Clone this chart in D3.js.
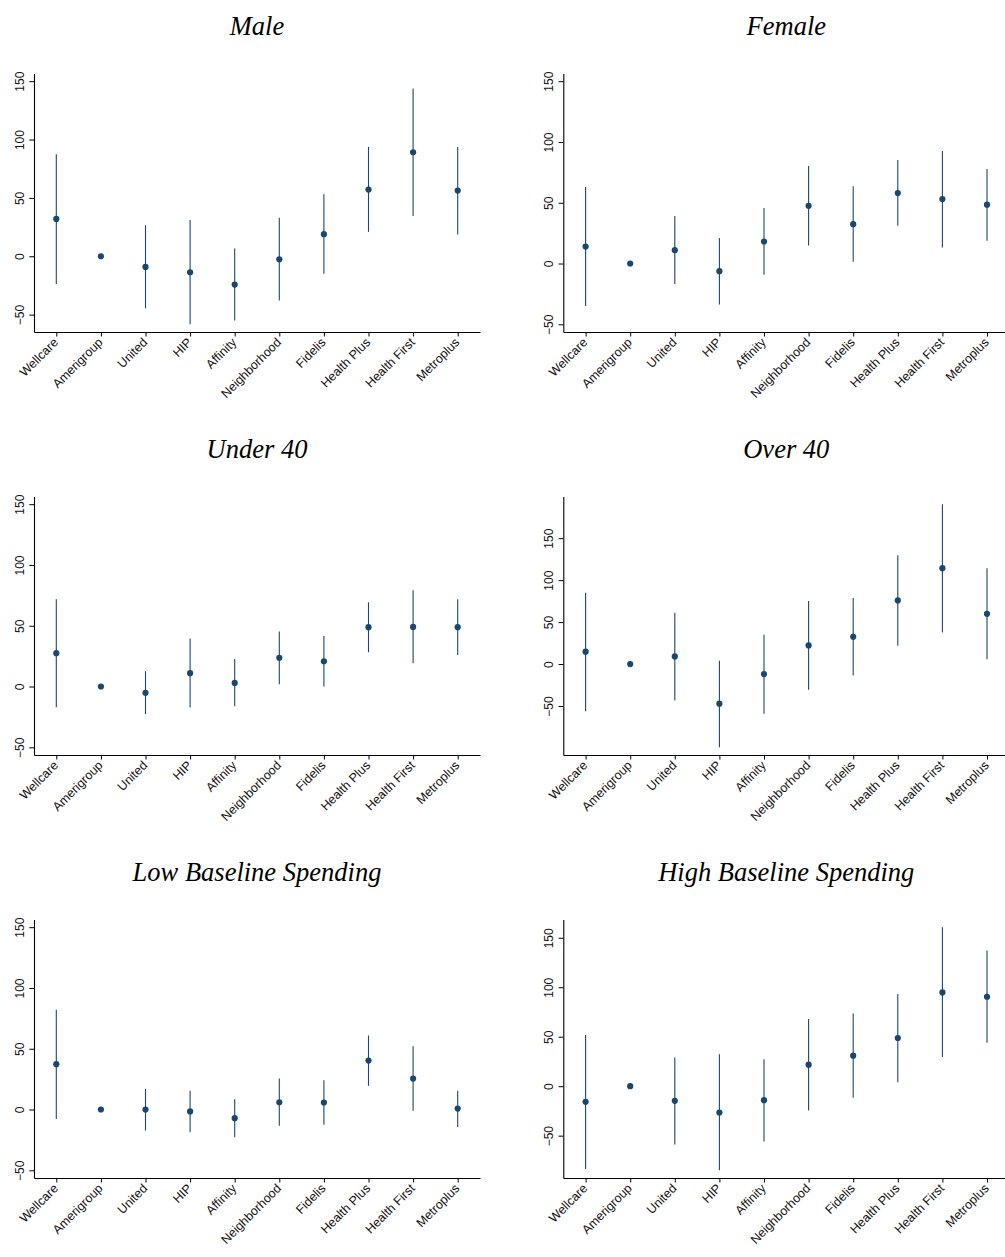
<!DOCTYPE html>
<html>
<head>
<meta charset="utf-8">
<script src="https://cdn.jsdelivr.net/npm/d3@7"></script>
<style>
  html, body { margin: 0; padding: 0; background: #fff; }
  svg { display: block; }
</style>
</head>
<body>
<script>
// ---- Data ----
const categories = ["Wellcare","Amerigroup","United","HIP","Affinity","Neighborhood","Fidelis","Health Plus","Health First","Metroplus"];
const yTicks = [-50, 0, 50, 100, 150];
const titles = ["Male", "Female", "Under 40", "Over 40", "Low Baseline Spending", "High Baseline Spending"];

const maleEst = [32.0, 0, -9.1, -13.7, -24.3, -2.6, 18.9, 57.1, 89.1, 56.3];
const maleLo  = [-23.7, 0, -44.6, -58.3, -55.1, -38.0, -14.9, 20.9, 34.6, 18.6];
const maleHi  = [87.4, 0, 26.6, 31.1, 6.6, 32.9, 53.1, 93.7, 143.7, 93.7];

const femaleEst = [14.0, 0, 11.0, -6.3, 18.1, 47.5, 32.4, 58.0, 53.0, 48.4];
const femaleLo  = [-34.9, 0, -16.8, -33.8, -9.3, 14.8, 1.4, 31.0, 13.2, 18.7];
const femaleHi  = [62.9, 0, 39.0, 20.9, 45.6, 80.2, 63.5, 85.2, 92.6, 77.7];

const under40Est = [27.4, 0, -5.2, 11.0, 3.0, 23.6, 20.8, 48.8, 49.0, 48.8];
const under40Lo  = [-17.0, 0, -22.7, -17.3, -16.2, 1.9, 0.0, 28.2, 19.2, 26.0];
const under40Hi  = [71.8, 0, 12.6, 39.5, 22.7, 45.2, 41.6, 69.3, 79.2, 71.8];

const over40Est = [14.7, 0, 9.1, -47.2, -11.9, 22.2, 32.5, 75.8, 114.3, 59.9];
const over40Lo  = [-56.3, 0, -43.3, -99.2, -59.1, -30.6, -13.5, 21.8, 37.7, 5.6];
const over40Hi  = [84.9, 0, 61.1, 4.0, 34.9, 75.0, 78.6, 129.8, 190.5, 114.3];

const lowEst = [37.3, 0, 0.0, -1.6, -7.1, 6.0, 5.8, 40.3, 25.5, 0.8];
const lowLo  = [-7.7, 0, -17.3, -18.6, -22.8, -13.4, -12.6, 19.5, -1.1, -14.3];
const lowHi  = [82.0, 0, 17.0, 15.4, 8.5, 25.5, 24.1, 60.9, 52.1, 15.4];

const highEst = [-15.8, 0, -14.8, -26.6, -14.1, 21.8, 30.9, 48.7, 94.8, 90.4];
const highLo  = [-83.7, 0, -58.8, -85.0, -55.8, -24.5, -11.8, 4.0, 29.6, 44.0];
const highHi  = [51.8, 0, 28.9, 32.3, 27.2, 67.9, 73.6, 93.1, 160.7, 137.1];

const panels = [
  {est: maleEst, lo: maleLo, hi: maleHi},
  {est: femaleEst, lo: femaleLo, hi: femaleHi},
  {est: under40Est, lo: under40Lo, hi: under40Hi},
  {est: over40Est, lo: over40Lo, hi: over40Hi},
  {est: lowEst, lo: lowLo, hi: lowHi},
  {est: highEst, lo: highLo, hi: highHi}
];

// ---- Layout ----
const W = 1005, H = 1257;
const colX = [34, 563.3];
const rowTop = [73.5, 496.5, 919.5];
const plotW = 446, plotH = 258.5;
const padPx = 7.7;
const navy = "#1a476f";

const svg = d3.select("body").append("svg").attr("width", W).attr("height", H);

panels.forEach((p, i) => {
  const col = i % 2, row = Math.floor(i / 2);
  const x0 = colX[col], y0 = rowTop[row];
  const g = svg.append("g").attr("transform", `translate(${x0},${y0})`);

  const x = d3.scaleLinear().domain([0.5, categories.length + 0.5]).range([0, plotW]);

  const vmin = Math.min(d3.min(p.lo), d3.min(yTicks));
  const vmax = Math.max(d3.max(p.hi), d3.max(yTicks));
  const k = (plotH - 2 * padPx) / (vmax - vmin);
  const y = d3.scaleLinear()
    .domain([vmin - padPx / k, vmax + padPx / k])
    .range([plotH, 0]);

  // title
  svg.append("text")
    .attr("x", x0 + plotW / 2)
    .attr("y", 35 + row * 423)
    .attr("text-anchor", "middle")
    .attr("font-family", "'Liberation Serif', 'DejaVu Serif', serif")
    .attr("font-style", "italic")
    .attr("font-size", 26.5)
    .attr("fill", "#000")
    .text(titles[i]);

  // y axis
  const yAxis = g.append("g")
    .call(d3.axisLeft(y).tickValues(yTicks).tickSize(4.7).tickSizeOuter(0).tickFormat(d3.format("d")));
  yAxis.select(".domain").attr("stroke", "#000").attr("stroke-width", 1.1);
  yAxis.selectAll(".tick line").attr("stroke", "#000");
  yAxis.selectAll(".tick text")
    .attr("x", null).attr("dy", null)
    .attr("transform", "translate(-10,0) rotate(-90)")
    .attr("text-anchor", "middle")
    .attr("font-family", "'Liberation Sans', Arial, sans-serif")
    .attr("font-size", 12)
    .attr("fill", "#111");

  // x axis
  const xAxis = g.append("g")
    .attr("transform", `translate(0,${plotH})`)
    .call(d3.axisBottom(x).tickValues(d3.range(1, categories.length + 1))
      .tickSize(4.5).tickSizeOuter(0).tickFormat(d => categories[d - 1]));
  xAxis.select(".domain").attr("stroke", "#000").attr("stroke-width", 1.1);
  xAxis.selectAll(".tick line").attr("stroke", "#000");
  xAxis.selectAll(".tick text")
    .attr("y", null).attr("dy", null)
    .attr("transform", "translate(-1,8) rotate(-45)")
    .attr("text-anchor", "end")
    .attr("dy", "0.35em")
    .attr("font-family", "'Liberation Sans', Arial, sans-serif")
    .attr("font-size", 12.5)
    .attr("fill", "#111");

  const idx = d3.range(categories.length);

  // CI lines
  g.selectAll("line.ci").data(idx.filter(j => p.hi[j] !== p.lo[j])).enter()
    .append("line").attr("class", "ci")
    .attr("x1", j => x(j + 1)).attr("x2", j => x(j + 1))
    .attr("y1", j => y(p.lo[j])).attr("y2", j => y(p.hi[j]))
    .attr("stroke", navy).attr("stroke-width", 1.1);

  // points
  g.selectAll("circle.pt").data(idx).enter()
    .append("circle").attr("class", "pt")
    .attr("cx", j => x(j + 1)).attr("cy", j => y(p.est[j]))
    .attr("r", 3.1)
    .attr("fill", navy);
});
</script>
</body>
</html>
